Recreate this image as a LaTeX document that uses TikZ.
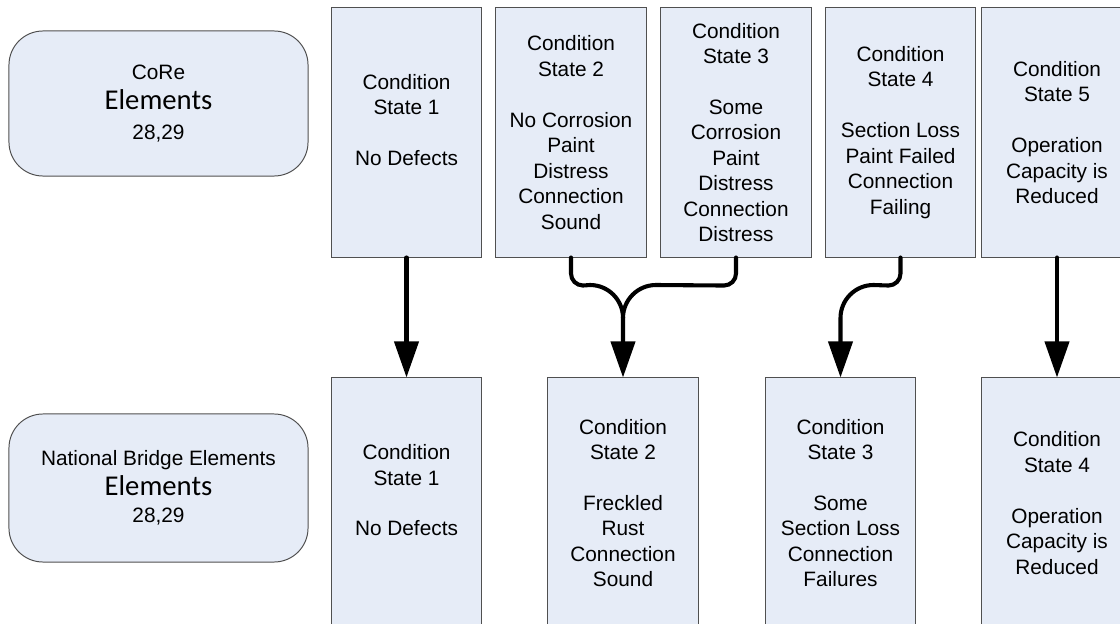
\documentclass[tikz,border=0pt]{standalone}
\usepackage{fontspec}
\setmainfont{Liberation Sans}
\newfontfamily\calfont{Carlito}
\usetikzlibrary{arrows.meta}
\definecolor{boxfill}{RGB}{230,236,247}
\definecolor{boxline}{RGB}{80,80,80}
\tikzset{
  state/.style={draw=boxline,fill=boxfill,line width=0.7pt,minimum width=3.75cm,minimum height=6.225cm,
    align=center,inner sep=0pt,font=\fontsize{14.8}{18.1}\selectfont},
  group/.style={state,rounded corners=0.85cm,minimum width=7.475cm,minimum height=3.7cm},
  pipe/.style={line width=2.9pt,line cap=round},
  flow/.style={pipe,-{Triangle[length=0.9cm,width=0.6cm]}}
}
\newcommand{\gap}{\\[18.1pt]}
\newcommand{\elemtext}[1]{{\calfont\fontsize{20.4}{24}\selectfont #1}}

\begin{document}
\begin{tikzpicture}[x=0.025cm,y=0.025cm]
\useasboundingbox (0,0) rectangle (1120,-624);
\clip (0,0) rectangle (1120,-624);
% CoRe elements
\node[group,minimum height=3.625cm] (core) at (158.5,-103.5) {CoRe\\[3.5pt]\elemtext{Elements}\\[3pt]28,29};
\node[state] (cs1) at (406.5,-132.5) {Condition\\State 1\gap No Defects\\\mbox{}};
\node[state] (cs2) at (571,-132.5) {Condition\\State 2\gap No Corrosion\\Paint\\Distress\\Connection\\Sound};
\node[state] (cs3) at (736,-132.5) {Condition\\State 3\gap Some\\Corrosion\\Paint\\Distress\\Connection\\Distress};
\node[state] (cs4) at (900.5,-132.5) {Condition\\State 4\gap Section Loss\\Paint Failed\\Connection\\Failing};
\node[state] (cs5) at (1057,-132.5) {Condition\\State 5\gap Operation\\Capacity is\\Reduced};
% national bridge elements
\node[group] (nbe) at (158.5,-488) {National Bridge Elements\\[3.5pt]\elemtext{Elements}\\[1pt]28,29};
\node[state,minimum height=6.25cm] (nb1) at (406.5,-503) {Condition\\State 1\gap No Defects\\\mbox{}};
\node[state,minimum height=6.25cm] (nb2) at (623,-503) {Condition\\State 2\gap Freckled\\Rust\\Connection\\Sound};
\node[state,minimum height=6.25cm] (nb3) at (840.5,-503) {Condition\\State 3\gap Some\\Section Loss\\Connection\\Failures};
\node[state,minimum height=6.25cm] (nb4) at (1057,-503) {Condition\\State 4\gap Operation\\Capacity is\\Reduced};
% mappings
\draw[flow] (cs1.south) -- (nb1.north);
\draw[flow] (cs2.south) -- ++(0,-16) arc[start angle=180,end angle=270,radius=12] -- (590,-285)
  arc[start angle=90,end angle=0,radius=33] -- (nb2.north);
\draw[pipe] (cs3.south) -- ++(0,-16) arc[start angle=0,end angle=-90,radius=12] -- (656,-285)
  arc[start angle=90,end angle=180,radius=33];
\draw[flow] (cs4.south) -- ++(0,-16) arc[start angle=0,end angle=-90,radius=12] -- (873.5,-285)
  arc[start angle=90,end angle=180,radius=33] -- (nb3.north);
\draw[flow] (cs5.south) -- (nb4.north);
\end{tikzpicture}
\end{document}
